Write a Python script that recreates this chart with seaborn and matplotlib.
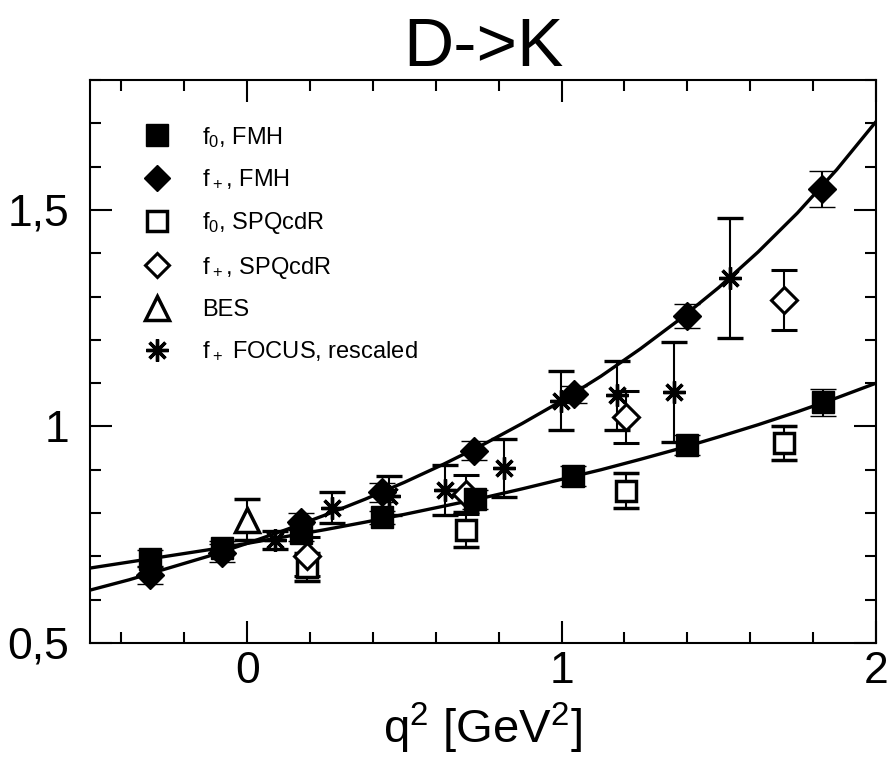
import numpy as np
import pandas as pd
import seaborn as sns
import matplotlib
matplotlib.use('Agg')
from matplotlib import pyplot as plt
from matplotlib.lines import Line2D
from matplotlib.ticker import MultipleLocator

# fit curves
curve_q2 = [-0.5, -0.375, -0.25, -0.125, 0.0, 0.125, 0.25, 0.375, 0.5, 0.625, 0.75,
            0.875, 1.0, 1.125, 1.25, 1.375, 1.5, 1.625, 1.75, 1.875, 2.0]
curve_f0 = [0.673, 0.687, 0.701, 0.715, 0.730, 0.746, 0.762, 0.779, 0.797, 0.816, 0.835,
            0.856, 0.878, 0.900, 0.924, 0.949, 0.976, 1.004, 1.034, 1.066, 1.100]
curve_fp = [0.622, 0.646, 0.673, 0.700, 0.730, 0.762, 0.796, 0.832, 0.871, 0.913, 0.958,
            1.007, 1.059, 1.116, 1.179, 1.247, 1.321, 1.403, 1.493, 1.593, 1.704]

# f0, FMH
f0_fmh_q2 = [-0.31, -0.08, 0.17, 0.43, 0.725, 1.035, 1.40, 1.83]
f0_fmh = [0.695, 0.720, 0.755, 0.790, 0.832, 0.885, 0.957, 1.056]
f0_fmh_err = [0.02, 0.015, 0.02, 0.015, 0.022, 0.023, 0.024, 0.031]

# f+, FMH
fp_fmh_q2 = [-0.31, -0.08, 0.17, 0.43, 0.72, 1.04, 1.40, 1.827]
fp_fmh = [0.657, 0.708, 0.780, 0.848, 0.944, 1.074, 1.255, 1.549]
fp_fmh_err = [0.02, 0.02, 0.02, 0.022, 0.022, 0.02, 0.028, 0.042]

# f0, SPQcdR
f0_spq_q2 = [0.19, 0.695, 1.205, 1.708]
f0_spq = [0.675, 0.762, 0.852, 0.962]
f0_spq_err = [0.033, 0.04, 0.04, 0.04]

# f+, SPQcdR
fp_spq_q2 = [0.19, 0.695, 1.205, 1.708]
fp_spq = [0.700, 0.843, 1.022, 1.292]
fp_spq_err = [0.045, 0.045, 0.06, 0.07]

# BES
bes_q2 = [0.0]
bes = [0.785]
bes_err = [0.048]

# f+ FOCUS, rescaled
focus_q2 = [0.087, 0.27, 0.45, 0.63, 0.816, 0.997, 1.177, 1.356, 1.536]
focus = [0.737, 0.812, 0.840, 0.854, 0.904, 1.059, 1.072, 1.079, 1.343]
focus_err = [0.021, 0.036, 0.045, 0.058, 0.066, 0.068, 0.08, 0.116, 0.138]

xtick_vals = [0, 1, 2]
xtick_labels = ['0', '1', '2']
ytick_vals = [0.5, 1.0, 1.5]
ytick_labels = ['0,5', '1', '1,5']

sns.set_style('ticks')
plt.rcParams['font.family'] = ['Liberation Sans', 'DejaVu Sans']
plt.rcParams['mathtext.default'] = 'regular'
plt.rcParams['text.color'] = 'black'
plt.rcParams['axes.labelcolor'] = 'black'
plt.rcParams['xtick.color'] = 'black'
plt.rcParams['ytick.color'] = 'black'

fig = plt.figure(figsize=(8.96, 7.63), dpi=100)
ax = fig.add_axes([0.1004, 0.1573, 0.8773, 0.7378])

curves = pd.DataFrame({'q2': curve_q2, 'f0': curve_f0, 'fp': curve_fp})
sns.lineplot(data=curves, x='q2', y='f0', color='black', lw=2.4, sort=False,
             estimator=None, ax=ax)
sns.lineplot(data=curves, x='q2', y='fp', color='black', lw=2.4, sort=False,
             estimator=None, ax=ax)

eb = dict(ls='none', ecolor='black', elinewidth=1.5, capsize=9.5, capthick=1.5,
          mec='black', zorder=3)
ax.errorbar(focus_q2, focus, yerr=focus_err, marker=(8, 2, 0), ms=16, mew=2.4,
            color='black', **eb)
ax.errorbar(bes_q2, bes, yerr=bes_err, marker='^', ms=17, mfc='white', mew=2.5, **eb)
ax.errorbar(f0_spq_q2, f0_spq, yerr=f0_spq_err, marker='s', ms=14.5, mfc='white',
            mew=2.5, **eb)
ax.errorbar(fp_spq_q2, fp_spq, yerr=fp_spq_err, marker='D', ms=13, mfc='white',
            mew=2.2, **eb)
ax.errorbar(f0_fmh_q2, f0_fmh, yerr=f0_fmh_err, marker='s', ms=15.5, mfc='black',
            mew=1, **eb)
ax.errorbar(fp_fmh_q2, fp_fmh, yerr=fp_fmh_err, marker='D', ms=14, mfc='black',
            mew=1, **eb)

ax.set_xlim(-0.5, 2.0)
ax.set_ylim(0.5, 1.8)
ax.set_xticks(xtick_vals, xtick_labels)
ax.set_yticks(ytick_vals, ytick_labels)
ax.xaxis.set_minor_locator(MultipleLocator(0.2))
ax.yaxis.set_minor_locator(MultipleLocator(0.1))
ax.tick_params(which='both', direction='in', top=True, right=True, width=1.5,
               color='black', labelcolor='black')
ax.tick_params(which='major', length=16, labelsize=32)
ax.tick_params(axis='x', which='major', pad=6)
ax.tick_params(axis='y', which='major', pad=15)
ax.tick_params(which='minor', length=8)
for s in ax.spines.values():
    s.set_linewidth(1.5)
    s.set_color('black')

ax.set_xlabel('q$^2$ [GeV$^2$]', fontsize=34, labelpad=6, color='black')
ax.set_ylabel('')
ax.set_title('D->K', fontsize=50, pad=6, color='black')

handles = [
    Line2D([], [], ls='none', marker='s', ms=15.5, mfc='black', mec='black'),
    Line2D([], [], ls='none', marker='D', ms=13.5, mfc='black', mec='black'),
    Line2D([], [], ls='none', marker='s', ms=14, mfc='white', mec='black', mew=2.5),
    Line2D([], [], ls='none', marker='D', ms=12.5, mfc='white', mec='black', mew=2.2),
    Line2D([], [], ls='none', marker='^', ms=17, mfc='white', mec='black', mew=2.5),
    Line2D([], [], ls='none', marker=(8, 2, 0), ms=16, color='black', mew=2.4),
]
labels = ['f$_0$, FMH', 'f$_+$, FMH', 'f$_0$, SPQcdR', 'f$_+$, SPQcdR', 'BES',
          'f$_+$ FOCUS, rescaled']
ax.legend(handles, labels, loc='upper left', bbox_to_anchor=(0.0402, 0.9583),
          frameon=False, fontsize=17, handlelength=1.2, handletextpad=1.31,
          labelspacing=0.79, labelcolor='black')

plt.savefig('out.png', dpi=100)
